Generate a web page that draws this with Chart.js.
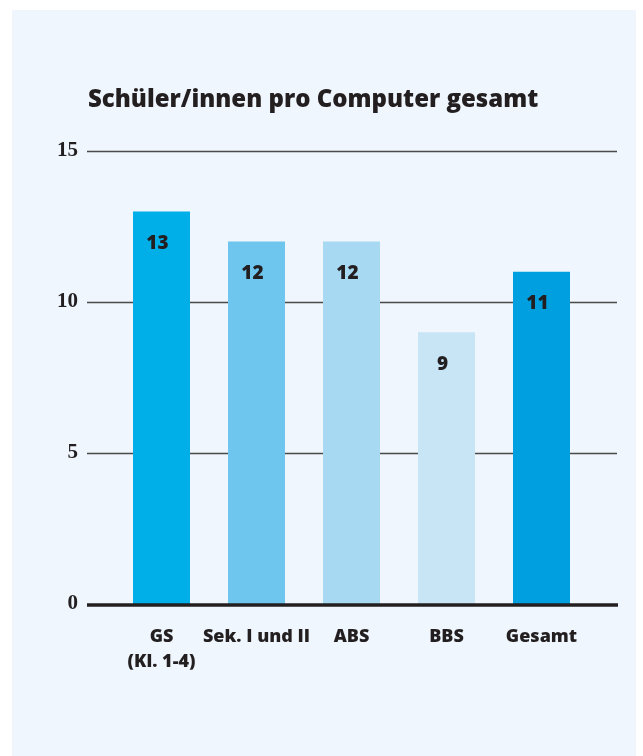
<!DOCTYPE html>
<html>
<head>
<meta charset="utf-8">
<script src="https://cdn.jsdelivr.net/npm/chart.js@4.4.1/dist/chart.umd.min.js"></script>
<style>
  html, body { margin: 0; padding: 0; background: #ffffff; }
  #wrap { position: relative; width: 643px; height: 756px; overflow: hidden; }
  #panel { position: absolute; left: 12px; top: 10px; width: 624px; height: 746px; background: #EFF6FD; }
  #c { position: absolute; left: 0; top: 0; }
</style>
</head>
<body>
<div id="wrap">
  <div id="panel"></div>
  <canvas id="c" width="643" height="756"></canvas>
</div>
<script>
const titleText = "Schüler/innen pro Computer gesamt";
const categories = [["GS", "(Kl. 1-4)"], "Sek. I und II", "ABS", "BBS", "Gesamt"];
const values = [13, 12, 12, 9, 11];
const barColors = ["#00AEE8", "#6EC6EE", "#A8D9F2", "#C8E5F6", "#00A0E0"];
const yTicks = [0, 5, 10, 15];

const textColor = "#231F20";

const gridPlugin = {
  id: "extGrid",
  beforeDatasetsDraw(chart) {
    const ctx = chart.ctx;
    const y = chart.scales.y;
    ctx.save();
    ctx.strokeStyle = "#4a4a4a";
    ctx.lineWidth = 1.6;
    yTicks.forEach(v => {
      if (v === 0) return;
      const py = Math.round(y.getPixelForValue(v)) + 0.5;
      ctx.beginPath();
      ctx.moveTo(87, py);
      ctx.lineTo(617, py);
      ctx.stroke();
    });
    ctx.restore();
  },
  afterDatasetsDraw(chart) {
    const ctx = chart.ctx;
    const y = chart.scales.y;
    ctx.save();
    ctx.strokeStyle = textColor;
    ctx.lineWidth = 3.5;
    const py0 = y.getPixelForValue(0) + 1;
    ctx.beginPath();
    ctx.moveTo(87, py0);
    ctx.lineTo(618, py0);
    ctx.stroke();
    const meta = chart.getDatasetMeta(0);
    ctx.fillStyle = textColor;
    ctx.font = "800 19px 'Open Sans'";
    ctx.textAlign = "center";
    ctx.textBaseline = "middle";
    meta.data.forEach((bar, i) => {
      ctx.fillText(String(values[i]), bar.x - 4, bar.y + 32);
    });
    ctx.textAlign = "left";
    ctx.textBaseline = "alphabetic";
    ctx.font = "800 24px 'Open Sans'";
    ctx.fillText(titleText, 88, 107);
    ctx.restore();
  }
};

new Chart(document.getElementById("c"), {
  type: "bar",
  data: {
    labels: categories,
    datasets: [{
      data: values,
      backgroundColor: barColors,
      borderWidth: 0,
      barPercentage: 0.6,
      categoryPercentage: 1.0
    }]
  },
  options: {
    responsive: false,
    animation: false,
    devicePixelRatio: 1,
    layout: { padding: { left: 40, right: 54, top: 151, bottom: 40 } },
    plugins: { legend: { display: false }, tooltip: { enabled: false }, title: { display: false } },
    scales: {
      x: {
        grid: { display: false, drawTicks: false },
        border: { display: false },
        afterFit(s) { s.height = 112; },
        ticks: {
          color: textColor,
          padding: 21,
          font: { family: "'Open Sans'", weight: 800, size: 18, lineHeight: 1.35 },
          maxRotation: 0, autoSkip: false
        }
      },
      y: {
        min: 0, max: 15,
        afterFit(s) { s.width = 74; },
        afterBuildTicks(s) { s.ticks = yTicks.map(v => ({ value: v })); },
        grid: { display: false, drawTicks: false },
        border: { display: false },
        ticks: {
          color: textColor,
          padding: 36,
          font: { family: "Liberation Serif", weight: "bold", size: 21 }
        }
      }
    }
  },
  plugins: [gridPlugin]
});
</script>
</body>
</html>
